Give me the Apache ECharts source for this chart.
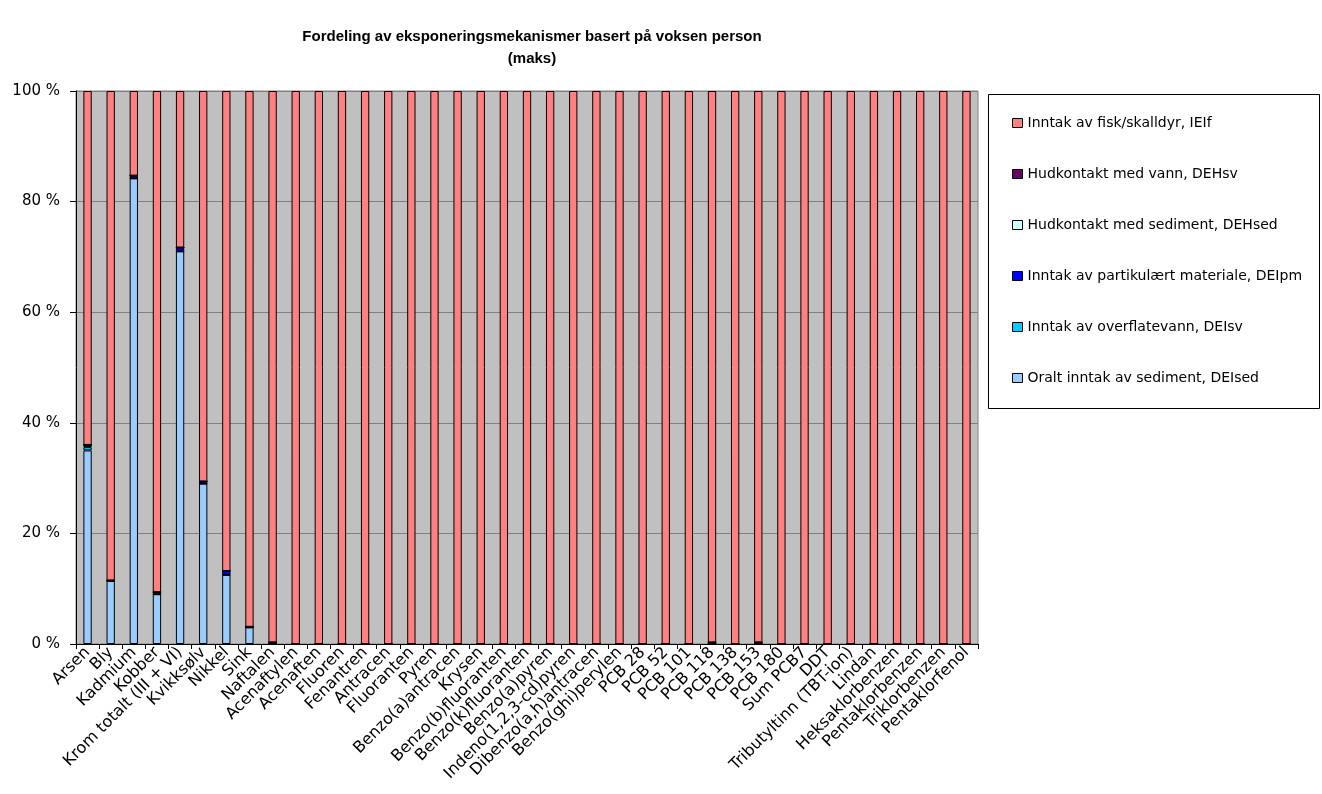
<!DOCTYPE html>
<html>
<head>
<meta charset="utf-8">
<script src="https://cdn.jsdelivr.net/npm/echarts@6/dist/echarts.min.js"></script>
<style>html,body{margin:0;padding:0;background:#fff;}#c{width:1322px;height:794px;}</style>
</head>
<body>
<div id="c"></div>
<script>
const categories = ["Arsen","Bly","Kadmium","Kobber","Krom totalt (III + VI)","Kvikksølv","Nikkel","Sink","Naftalen","Acenaftylen","Acenaften","Fluoren","Fenantren","Antracen","Fluoranten","Pyren","Benzo(a)antracen","Krysen","Benzo(b)fluoranten","Benzo(k)fluoranten","Benzo(a)pyren","Indeno(1,2,3-cd)pyren","Dibenzo(a,h)antracen","Benzo(ghi)perylen","PCB 28","PCB 52","PCB 101","PCB 118","PCB 138","PCB 153","PCB 180","Sum PCB7","DDT","Tributyltinn (TBT-ion)","Lindan","Heksaklorbenzen","Pentaklorbenzen","Triklorbenzen","Pentaklorfenol"];

const seriesNames = ["Oralt inntak av sediment, DEIsed","Inntak av overflatevann, DEIsv","Inntak av partikulært materiale, DEIpm","Hudkontakt med sediment, DEHsed","Hudkontakt med vann, DEHsv","Inntak av fisk/skalldyr, IEIf"];
const seriesColors = ["#99CCFF","#00CCFF","#0000FF","#CCFFFF","#660066","#FF8080"];

const DEIsed = [35.0,11.4,84.2,9.0,71.0,29.0,12.5,3.0,0,0,0,0,0,0,0,0,0,0,0,0,0,0,0,0,0,0,0,0,0,0,0,0,0,0,0,0,0,0,0];
const DEIsv  = [0.6,0,0,0,0,0,0,0,0,0,0,0,0,0,0,0,0,0,0,0,0,0,0,0,0,0,0,0,0,0,0,0,0,0,0,0,0,0,0];
const DEIpm  = [0.4,0.1,0.5,0.4,0.7,0.4,0.7,0.1,0.3,0,0,0,0,0,0,0,0,0,0,0,0,0,0,0,0,0,0,0.3,0,0.3,0,0,0,0,0,0,0,0,0];
const DEHsed = [0,0,0,0,0,0,0,0,0,0,0,0,0,0,0,0,0,0,0,0,0,0,0,0,0,0,0,0,0,0,0,0,0,0,0,0,0,0,0];
const DEHsv  = [0,0,0,0,0,0,0,0,0,0,0,0,0,0,0,0,0,0,0,0,0,0,0,0,0,0,0,0,0,0,0,0,0,0,0,0,0,0,0];
const IEIf   = [64.0,88.5,15.3,90.6,28.3,70.6,86.8,96.9,99.7,100,100,100,100,100,100,100,100,100,100,100,100,100,100,100,100,100,100,99.7,100,99.7,100,100,100,100,100,100,100,100,100];

const yTicks = [0,20,40,60,80,100];

const dataArr = [DEIsed, DEIsv, DEIpm, DEHsed, DEHsv, IEIf];
const FONT = "DejaVu Sans";

const chart = echarts.init(document.getElementById('c'));
chart.setOption({
  animation: false,
  backgroundColor: '#ffffff',
  title: {
    text: 'Fordeling av eksponeringsmekanismer basert på voksen person\n(maks)',
    left: 527, top: 21, textAlign: 'center',
    textStyle: { fontFamily: "Liberation Sans", fontSize: 15, fontWeight: 'bold', color: '#000', lineHeight: 22 }
  },
  legend: {
    orient: 'vertical',
    left: 1007, top: 111,
    itemWidth: 10, itemHeight: 9, itemGap: 37,
    data: seriesNames.slice().reverse(),
    textStyle: { fontFamily: FONT, fontSize: 14, color: '#000' },
    icon: 'rect',
    itemStyle: { borderColor: '#000', borderWidth: 1 }
  },
  graphic: [{
    type: 'rect', shape: { x: 988.5, y: 94.5, width: 331, height: 314 },
    style: { fill: 'none', stroke: '#000', lineWidth: 1 }, silent: true
  }],
  grid: {
    left: 76, right: 344, top: 91, bottom: 150,
    show: true, backgroundColor: '#C0C0C0', borderColor: '#808080', borderWidth: 1
  },
  xAxis: {
    type: 'category', data: categories,
    axisLine: { lineStyle: { color: '#000', width: 1 } },
    axisTick: { show: true, length: 5, lineStyle: { color: '#000' } },
    axisLabel: { interval: 0, rotate: 45, fontFamily: FONT, fontSize: 16, color: '#000', margin: 6 }
  },
  yAxis: {
    type: 'value', min: yTicks[0], max: yTicks[yTicks.length - 1], interval: 20,
    axisLine: { show: true, lineStyle: { color: '#000', width: 1 } },
    axisTick: { show: true, length: 6, lineStyle: { color: '#000' } },
    splitLine: { lineStyle: { color: '#808080', width: 1 } },
    axisLabel: { fontFamily: FONT, fontSize: 15, color: '#000', margin: 16, formatter: v => v + ' %' }
  },
  series: seriesNames.map((n, i) => ({
    name: n, type: 'bar', stack: 'total', barWidth: '36%',
    data: dataArr[i],
    itemStyle: { color: seriesColors[i], borderColor: '#000', borderWidth: 1 }
  }))
});
</script>
</body>
</html>
